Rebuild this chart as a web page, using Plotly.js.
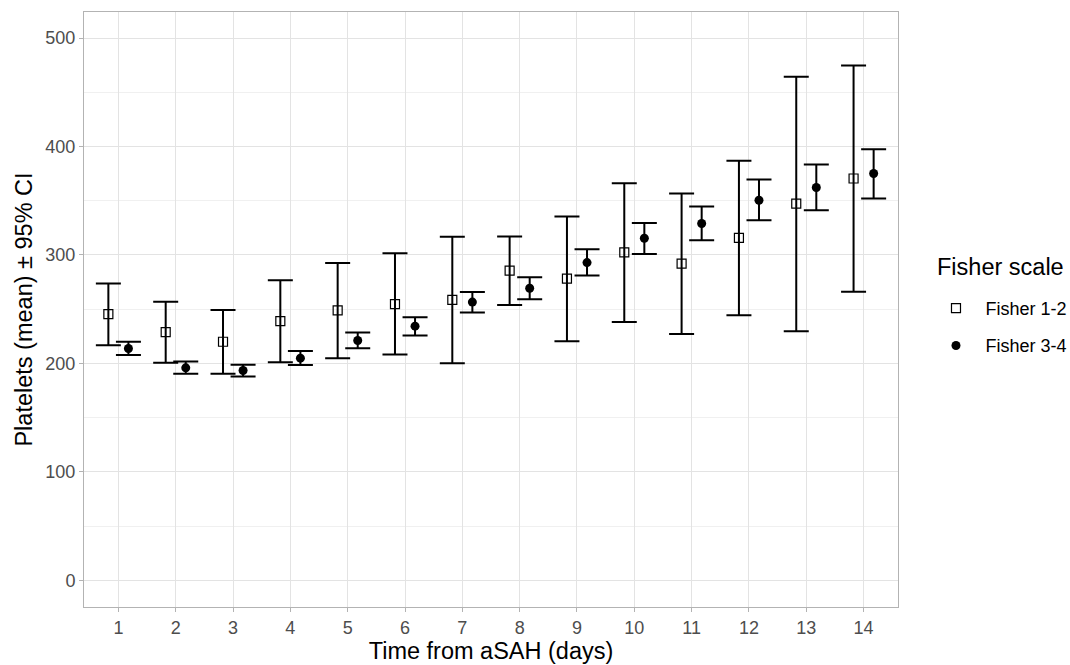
<!DOCTYPE html>
<html>
<head>
<meta charset="utf-8">
<script src="https://cdn.plot.ly/plotly-3.0.1.min.js"></script>
<style>html,body{margin:0;padding:0;background:#fff}#chart{width:1070px;height:665px}</style>
</head>
<body>
<div id="chart"></div>
<script>
const days = [1,2,3,4,5,6,7,8,9,10,11,12,13,14];
const dayLabels = ["1","2","3","4","5","6","7","8","9","10","11","12","13","14"];

const f12Mean = [245.5,228.9,220.0,239.0,248.9,254.7,258.7,285.6,278.2,302.5,292.1,315.7,347.4,370.5];
const f12Low  = [216.9,200.6,190.5,201.2,204.9,208.3,200.3,253.9,220.5,238.3,227.2,244.5,229.7,266.2];
const f12High = [273.8,256.9,249.2,276.6,292.6,301.5,316.9,317.0,335.4,366.2,356.6,386.8,464.3,474.7];

const f34Mean = [213.8,196.0,193.5,204.9,221.2,234.4,256.6,269.3,293.0,315.4,329.0,350.5,362.2,375.1];
const f34Low  = [207.7,190.5,188.0,198.5,214.1,225.8,247.0,259.2,281.0,301.0,313.6,332.0,341.3,352.0];
const f34High = [220.0,201.8,198.8,211.4,228.6,242.7,265.8,279.5,305.3,329.6,344.6,369.6,383.4,397.5];

const seriesNames = ["Fisher 1-2","Fisher 3-4"];
const legendTitle = "Fisher scale";
const dodge = 0.175;

function trace(name, offset, mean, low, high, marker) {
  return {
    type: 'scatter', mode: 'markers', name: name, legendgroup: name,
    x: days.map(d => d + offset),
    y: mean,
    error_y: {
      type: 'data', symmetric: false,
      array: high.map((h, i) => h - mean[i]),
      arrayminus: low.map((l, i) => mean[i] - l),
      color: '#000', thickness: 2, width: 12.5
    },
    marker: marker,
    hoverinfo: 'x+y'
  };
}

const data = [
  trace(seriesNames[0], -dodge, f12Mean, f12Low, f12High,
        {symbol: 'square-open', size: 9, color: '#000', line: {width: 1.2, color: '#000'}}),
  trace(seriesNames[1], dodge, f34Mean, f34Low, f34High,
        {symbol: 'circle', size: 9, color: '#000'})
];

const layout = {
  width: 1070, height: 665,
  margin: {l: 84, r: 172, t: 12, b: 58, autoexpand: false},
  paper_bgcolor: '#fff', plot_bgcolor: '#fff',
  font: {family: 'Liberation Sans, Arial, sans-serif', color: '#000'},
  showlegend: true,
  xaxis: {
    range: [0.4, 14.6],
    tickvals: days, ticktext: dayLabels,
    tickfont: {size: 18, color: '#4d4d4d'},
    ticks: 'outside', ticklen: 4, tickcolor: '#b3b3b3', tickwidth: 1,
    showgrid: true, gridcolor: '#e3e3e3', gridwidth: 1,
    zeroline: false,
    showline: true, mirror: true, linecolor: '#b3b3b3', linewidth: 1,
    title: {text: 'Time from aSAH (days)', font: {size: 23.5, color: '#000'}, standoff: 2}
  },
  yaxis: {
    range: [-24.5, 524],
    tickvals: [0,100,200,300,400,500],
    tickfont: {size: 18, color: '#4d4d4d'},
    ticks: 'outside', ticklen: 4, tickcolor: '#b3b3b3', tickwidth: 1,
    showgrid: true, gridcolor: '#e3e3e3', gridwidth: 1,
    minor: {tickvals: [50,150,250,350,450], showgrid: true, gridcolor: '#f0f0f0', gridwidth: 0.6, ticks: ''},
    zeroline: false,
    showline: true, mirror: true, linecolor: '#b3b3b3', linewidth: 1,
    title: {text: 'Platelets (mean) ± 95% CI', font: {size: 23.5, color: '#000'}, standoff: 6}
  },
  legend: {
    x: 1.035, xanchor: 'left', y: 0.533, yanchor: 'top',
    font: {size: 18, color: '#000'},
    bgcolor: 'rgba(0,0,0,0)', borderwidth: 0,
    itemwidth: 49, traceorder: 'grouped', tracegroupgap: 11
  },
  annotations: [{
    text: legendTitle, xref: 'paper', yref: 'paper',
    x: 1.0455, xanchor: 'left', y: 0.571, yanchor: 'middle',
    showarrow: false, font: {size: 23.5, color: '#000'}
  }]
};

Plotly.newPlot('chart', data, layout, {displayModeBar: false, responsive: false});
</script>
</body>
</html>
